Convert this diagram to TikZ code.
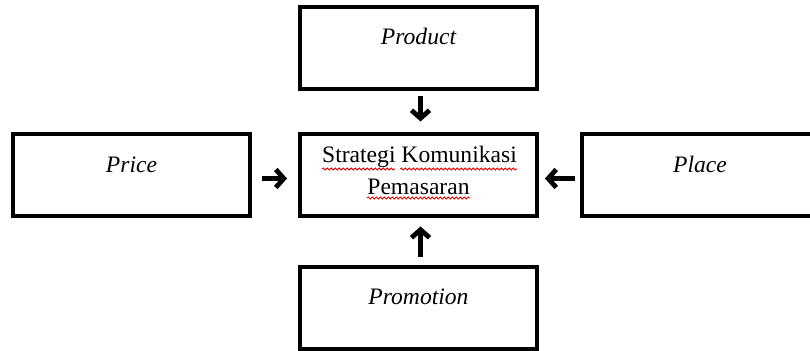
\documentclass[tikz,border=0pt]{standalone}
\usepackage{fontspec}
\setmainfont{Liberation Serif}
\usetikzlibrary{arrows.meta,decorations.pathmorphing}
\begin{document}
\begin{tikzpicture}[x=0.5pt,y=-0.5pt,
  box/.style={draw=black,line width=2pt,fill=white,minimum width=118.5pt,minimum height=41pt,inner sep=0pt,outer sep=0pt},
  lbl/.style={anchor=base,inner sep=0pt,font=\fontsize{11.8}{16}\selectfont\itshape},
  ctext/.style={anchor=base,inner sep=0pt,font=\fontsize{11.8}{16}\selectfont},
  arr/.style={line width=2.4pt,-{Straight Barb[length=4pt,width=9pt,line width=2.4pt]}},
  squig/.style={draw=red!85!black,line width=0.4pt,decorate,decoration={snake,amplitude=0.5pt,segment length=2pt}}]
\useasboundingbox (0,0) rectangle (810,351);
\clip (0,0) rectangle (810,351);
% boxes
\node[box] (product) at (418.5,48) {};
\node[box] (center) at (418.5,175.5) {};
\node[box] (price) at (131.5,175.5) {};
\node[box] (place) at (700,175.5) {};
\node[box] (promotion) at (418.5,308) {};
% labels
\node[lbl] (tproduct) at (418.5,45) {Product};
\node[lbl] (tprice) at (131.5,173) {Price};
\node[lbl] (tplace) at (700,173) {Place};
\node[lbl] (tpromotion) at (418.5,305) {Promotion};
\node[ctext] (tline1) at (419.5,163) {Strategi Komunikasi};
\node[ctext] (tline2) at (418.5,195) {Pemasaran};
% spell-check underlines
\draw[squig] (322,169) -- (395,169);
\draw[squig] (400,169) -- (517,169);
\draw[squig] (367,198) -- (470,198);
% arrows
\draw[arr,shorten <=7pt*0.5,shorten >=13pt*0.5] ([xshift=1pt]product.south) -- ([xshift=1pt]center.north);
\draw[arr,shorten <=6pt,shorten >=6.5pt] ([yshift=-1.5pt]price.east) -- ([yshift=-1.5pt]center.west);
\draw[arr,shorten <=3.5pt,shorten >=4pt] ([yshift=-1.5pt]place.west) -- ([yshift=-1.5pt]center.east);
\draw[arr,shorten <=5pt,shorten >=5pt] ([xshift=1pt]promotion.north) -- ([xshift=1pt]center.south);
\end{tikzpicture}
\end{document}
